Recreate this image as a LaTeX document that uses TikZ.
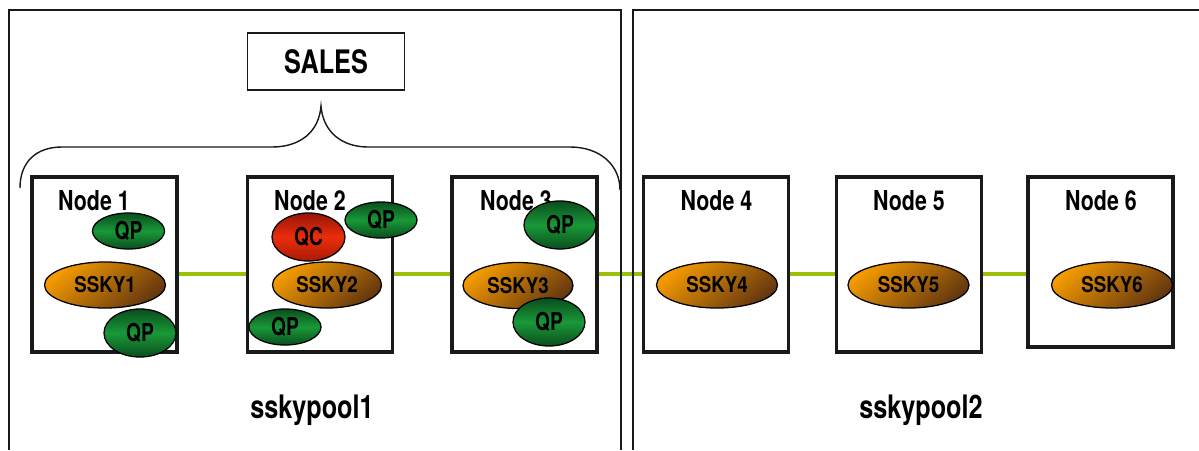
\documentclass[tikz,border=0pt]{standalone}
\usepackage{fontspec}
\usepackage{xcolor}
\usepackage{tikz}
\usetikzlibrary{shapes.geometric}
\newfontfamily\condfont{TeX Gyre Heros}[FakeStretch=0.78]
\newfontfamily\sskyfont{TeX Gyre Heros}[FakeStretch=0.86]
\definecolor{busgreen}{RGB}{155,192,10}
\definecolor{sskyhi}{RGB}{245,155,0}
\definecolor{sskylo}{RGB}{100,55,15}
\definecolor{qphi}{RGB}{25,152,55}
\definecolor{qplo}{RGB}{10,78,30}
\definecolor{qchi}{RGB}{235,45,10}
\definecolor{qclo}{RGB}{150,22,10}

\begin{document}
\begin{tikzpicture}[x=0.025cm, y=-0.025cm,
  hostbox/.style={draw=black!90, line width=2.4pt, fill=white, minimum width=3.625cm, minimum height=4.375cm, inner sep=0pt},
  hostlbl/.style={font=\condfont\bfseries\fontsize{19.5}{20}\selectfont, inner sep=0pt},
  sskyell/.style={ellipse, draw=black, line width=0.9pt, top color=sskyhi, bottom color=sskylo, shading angle=40,
    minimum width=3.025cm, minimum height=1.15cm, inner sep=0pt, font=\sskyfont\bfseries\fontsize{15.5}{16}\selectfont},
  qpell/.style={ellipse, draw=black, line width=0.9pt, top color=qplo, bottom color=qplo, middle color=qphi,
    minimum width=1.8cm, minimum height=0.9cm, inner sep=0pt, font=\condfont\bfseries\fontsize{17.5}{18}\selectfont},
  qpround/.style={qpell, minimum height=1.2cm},
  qcell/.style={ellipse, draw=black, line width=0.9pt, top color=qclo, bottom color=qclo!80!qchi, middle color=qchi,
    minimum width=1.825cm, minimum height=1.2cm, inner sep=0pt, font=\condfont\bfseries\fontsize{17.5}{18}\selectfont},
  link/.style={draw=busgreen, line width=2.2pt},
  pool/.style={draw=black!90, line width=1.1pt},
  poollbl/.style={font=\condfont\bfseries\fontsize{23}{24}\selectfont, inner sep=0pt},
  brace/.style={draw=black!90, line width=1pt}
]
\useasboundingbox (0,0) rectangle (1199,450);

% hosts
\node[hostbox] (n1) at (104.5,264.5) {};
\node[hostbox] (n2) at (320,264.5) {};
\node[hostbox] (n3) at (524.5,264.5) {};
\node[hostbox] (n4) at (716,264.5) {};
\node[hostbox] (n5) at (909,264.5) {};
\node[hostbox, minimum height=4.25cm] (n6) at (1100.5,262) {};

% interconnect
\coordinate (busline) at (0,274);
\draw[link] (n1.east |- busline) -- (n2.west |- busline);
\draw[link] (n2.east |- busline) -- (n3.west |- busline);
\draw[link] (n3.east |- busline) -- (n4.west |- busline);
\draw[link] (n4.east |- busline) -- (n5.west |- busline);
\draw[link] (n5.east |- busline) -- (n6.west |- busline);

% pools
\draw[pool] (9,450) -- (9,10) -- (621,10) -- (621,450);
\draw[pool] (633,450) -- (633,10) -- (1199,10);
\node[poollbl] (p1) at (312,410) {sskypool1};
\node[poollbl] (p2) at (921,410) {sskypool2};

% host labels
\node[hostlbl] (l1) at (94,201) {Node 1};
\node[hostlbl] (l2) at (310,201) {Node 2};
\node[hostlbl] (l3) at (516,201) {Node 3};
\node[hostlbl] (l4) at (716.5,201) {Node 4};
\node[hostlbl] (l5) at (909,201) {Node 5};
\node[hostlbl] (l6) at (1101,201) {Node 6};

% instances
\node[sskyell] (s1) at (105,285) {SSKY1};
\node[sskyell, minimum width=2.725cm] (s2) at (327,285) {SSKY2};
\node[sskyell, minimum width=2.75cm] (s3) at (518,285.5) {SSKY3};
\node[sskyell] (s4) at (717,285) {SSKY4};
\node[sskyell] (s5) at (908.5,285) {SSKY5};
\node[sskyell] (s6) at (1112,285) {SSKY6};

% services
\node[qpell] (q1a) at (128.5,231) {QP};
\node[qpround] (q1b) at (140,333) {QP};
\node[qcell] (c2) at (308.5,237) {QC};
\node[qpell] (q2a) at (381,220) {QP};
\node[qpell] (q2b) at (285,327) {QP};
\node[qpround] (q3a) at (560,225) {QP};
\node[qpround] (q3b) at (549,322) {QP};

% service group
\node[draw=black!90, line width=1.1pt, minimum width=3.925cm, minimum height=1.425cm, inner sep=0pt,
  font=\condfont\bfseries\fontsize{23}{24}\selectfont] (sales) at (326,61.5) {SALES};
\coordinate (tip) at (321,106);
\draw[brace] (20,188) .. controls (20,162) and (36,147) .. (62,147) -- (272,147)
  .. controls (300,147) and (319,132) .. (tip)
  .. controls (323,132) and (342,147) .. (368,147) -- (570,147)
  .. controls (600,147) and (620,165) .. (620,190);
\end{tikzpicture}
\end{document}
